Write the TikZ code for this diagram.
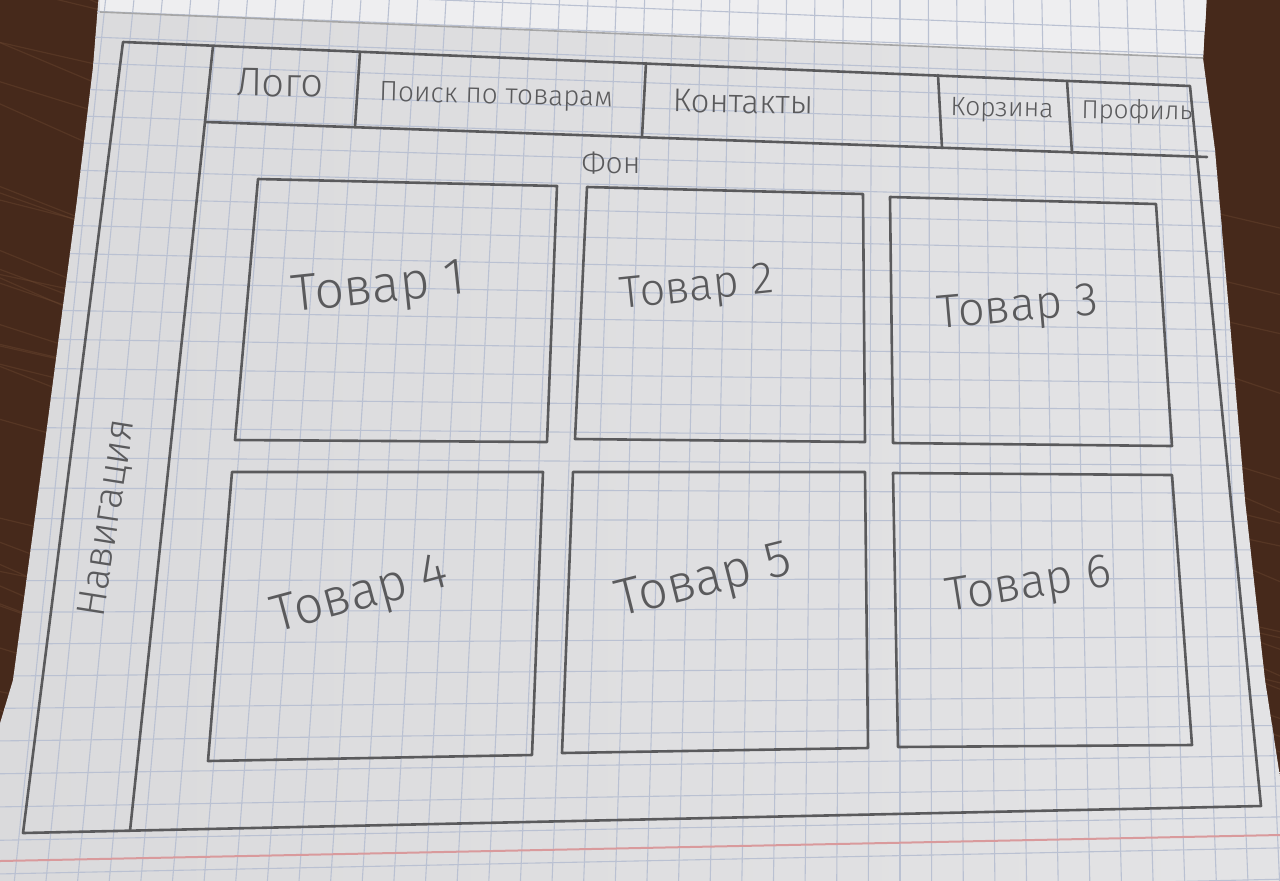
\documentclass[tikz,border=0pt]{standalone}
\usepackage{fontspec}
\newfontfamily\hand{Fira Sans Light}
\definecolor{wood}{HTML}{46291B}
\definecolor{woodlight}{HTML}{6A4630}
\definecolor{paper}{HTML}{E3E3E5}
\definecolor{paperhi}{HTML}{EEEEF0}
\definecolor{gridblue}{HTML}{BAC1D2}
\definecolor{pencil}{HTML}{5A5A5C}
\definecolor{marginred}{HTML}{D99A9C}
\begin{document}
\begin{tikzpicture}[x=0.5pt,y=-0.5pt,
  pen/.style={draw=pencil, line width=1.3pt, line join=round, line cap=round},
  gridline/.style={draw=gridblue, line width=0.55pt},
  hand/.style={text=pencil, inner sep=0pt},
  sz/.style={font=\hand\fontsize{#1}{#1}\selectfont}]
\useasboundingbox (0,0) rectangle (1280,880);

% table top
\fill[wood] (-20,-20) rectangle (1300,900);
\pgfmathsetseed{7}
\foreach \i in {1,...,40} {
  \pgfmathsetmacro{\ya}{rnd*1000-80}
  \pgfmathsetmacro{\dy}{rnd*60+40}
  \draw[woodlight, line width=0.6pt, opacity=0.45] (-20,\ya) -- (1300,{\ya+\dy*6});
}

% notebook page
\coordinate (p1) at (100,-20);
\coordinate (p2) at (1208,-20);
\coordinate (p3) at (1203,58);
\coordinate (p4) at (1215,150);
\coordinate (p5) at (1228,300);
\coordinate (p6) at (1245,500);
\coordinate (p7) at (1265,680);
\coordinate (p8) at (1282,790);
\coordinate (p9) at (1300,900);
\coordinate (p10) at (-20,900);
\coordinate (p11) at (-20,790);
\coordinate (p12) at (13,680);
\coordinate (p13) at (40,480);
\coordinate (p14) at (77,200);
\coordinate (p15) at (93,67);
\coordinate (fold1) at (100,12);
\begin{scope}
  \clip (p1) -- (p2) -- (p3) -- (p4) -- (p5) -- (p6) -- (p7) -- (p8) -- (p9)
        -- (p10) -- (p11) -- (p12) -- (p13) -- (p14) -- (p15) -- cycle;
  \shade[left color=paper!96!black, right color=paper!98!white] (-20,-20) rectangle (1300,900);
  \fill[paperhi] (p1) -- (p2) -- (p3) -- (fold1) -- cycle;
  % squared ruling
  \foreach \k in {-36,...,13} {
    \draw[gridline] ({900+28.3*\k},-20) -- ({900+31.7*\k},900);
  }
  \foreach \j in {-3,...,31} {
    \pgfmathsetmacro{\yl}{60+26.5*\j+0.135*\j*\j}
    \pgfmathsetmacro{\yr}{\yl+45-2.63*\j}
    \draw[gridline] (0,\yl) -- (1280,\yr);
  }
  % fold of the page above
  \draw[black!35, line width=0.8pt] (fold1) -- (p3);
  % margin line
  \coordinate (mL) at (0,861);
  \coordinate (mR) at (1280,835);
  \draw[marginred, line width=1pt] (mL) -- (mR);
\end{scope}

% outer frame
\coordinate (fTL) at (123,42);
\coordinate (fTR) at (1190,86);
\coordinate (fBR) at (1261,806);
\coordinate (fBL) at (23,833);
\draw[pen] (fTL) -- (fTR) -- (fBR) -- (fBL) -- cycle;

% navigation column
\coordinate (nT) at (213,46);
\coordinate (nB) at (130,831);
\draw[pen] (nT) -- (nB);

% header bar
\coordinate (hL) at (206,122);
\coordinate (hR) at (1207,157);
\draw[pen] (hL) -- (hR);
\coordinate (d1t) at (360,52);  \coordinate (d1b) at (355,127);
\coordinate (d2t) at (646,63);  \coordinate (d2b) at (642,137);
\coordinate (d3t) at (938,75);  \coordinate (d3b) at (942,148);
\coordinate (d4t) at (1067,81); \coordinate (d4b) at (1072,153);
\draw[pen] (d1t) -- (d1b);
\draw[pen] (d2t) -- (d2b);
\draw[pen] (d3t) -- (d3b);
\draw[pen] (d4t) -- (d4b);

\node[hand, sz=20, rotate=-1] (logo) at (280,83) {Лого};
\node[hand, sz=14, rotate=-1.5] (search) at (496,97) {Поиск по товарам};
\node[hand, sz=16.4, rotate=-1] (contacts) at (743,102) {Контакты};
\node[hand, sz=13.3, rotate=-1] (cart) at (1002,110) {Корзина};
\node[hand, sz=13, rotate=-1] (profile) at (1137,112) {Профиль};
\node[hand, sz=15] (bg) at (611,163) {Фон};
\node[hand, sz=20, rotate=81] (nav) at (108,518) {Навигация};

% product cards
\coordinate (a1) at (258,179); \coordinate (b1) at (557,186);
\coordinate (c1) at (547,442); \coordinate (e1) at (235,440);
\coordinate (a2) at (587,187); \coordinate (b2) at (863,194);
\coordinate (c2) at (865,442); \coordinate (e2) at (575,439);
\coordinate (a3) at (890,197); \coordinate (b3) at (1156,204);
\coordinate (c3) at (1172,446); \coordinate (e3) at (893,443);
\coordinate (a4) at (232,472); \coordinate (b4) at (543,472);
\coordinate (c4) at (532,755); \coordinate (e4) at (208,761);
\coordinate (a5) at (573,472); \coordinate (b5) at (865,472);
\coordinate (c5) at (868,748); \coordinate (e5) at (562,753);
\coordinate (a6) at (893,473); \coordinate (b6) at (1172,475);
\coordinate (c6) at (1192,745); \coordinate (e6) at (898,747);
\foreach \n in {1,...,6} {
  \draw[pen] (a\n) -- (b\n) -- (c\n) -- (e\n) -- cycle;
}

\node[hand, sz=26, rotate=6] (t1) at (379,290) {Товар 1};
\node[hand, sz=22.5, rotate=6] (t2) at (697,290) {Товар 2};
\node[hand, sz=23.6, rotate=5] (t3) at (1018,310) {Товар 3};
\node[hand, sz=26, rotate=15] (t4) at (360,597) {Товар 4};
\node[hand, sz=26, rotate=14] (t5) at (704,583) {Товар 5};
\node[hand, sz=24, rotate=9] (t6) at (1029,587) {Товар 6};
\end{tikzpicture}
\end{document}
